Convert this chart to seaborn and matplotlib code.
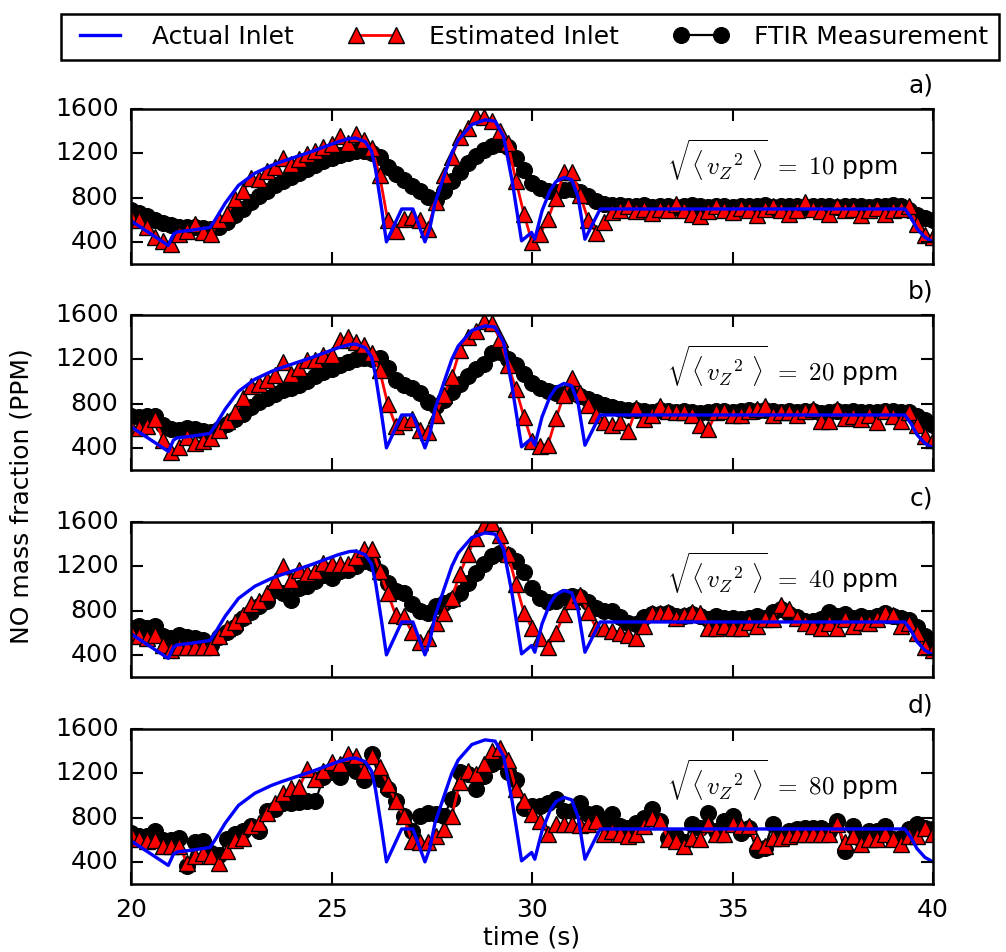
import numpy as np
import matplotlib
matplotlib.use("Agg")
import matplotlib.pyplot as plt
import seaborn as sns

# ---------------- data ----------------
TIME = [round(20 + 0.2 * i, 1) for i in range(101)]

# actual inlet (breakpoints)
ACT_T = [20.0, 20.93, 21.06, 21.15, 21.5, 21.97, 22.1, 22.35, 22.68, 23.09, 23.5, 23.76,
         24.5, 25.17, 25.45, 25.6, 25.84, 26.0, 26.1, 26.25, 26.37, 26.75, 27.03, 27.33,
         27.45, 27.58, 27.83, 28.0, 28.16, 28.5, 28.83, 29.08, 29.29, 29.5, 29.74, 29.99,
         30.07, 30.25, 30.45, 30.6, 30.8, 30.99, 31.15, 31.32, 31.7, 39.3, 39.45, 39.6,
         39.8, 40.0]
ACT_V = [590, 368, 470, 490, 505, 530, 600, 750, 910, 1020, 1090, 1125,
         1215, 1305, 1333, 1338, 1305, 1220, 1050, 700, 400, 697, 697, 400,
         520, 750, 1020, 1200, 1320, 1460, 1502, 1490, 1355, 960, 409, 485,
         424, 680, 864, 945, 982, 960, 803, 424, 697, 697, 620, 520,
         440, 400]

EST_A = [620, 600, 530, 440, 410, 380, 470, 500, 560, 490,
         470, 600, 650, 790, 860, 980, 970, 1040, 1075, 1160,
         1100, 1150, 1190, 1225, 1255, 1280, 1360, 1290, 1375, 1320,
         1250, 1000, 600, 500, 610, 620, 600, 520, 760, 1000,
         1170, 1350, 1430, 1540, 1530, 1490, 1400, 1290, 950, 650,
         400, 470, 610, 800, 1030, 1030, 820, 600, 480, 575,
         666, 690, 720, 680, 700, 660, 700, 690, 740, 690,
         650, 630, 680, 720, 690, 670, 710, 690, 640, 700,
         720, 690, 650, 690, 760, 700, 680, 650, 720, 690,
         700, 640, 690, 710, 650, 690, 700, 720, 560, 460,
         440]
FTIR_A = [690, 660, 630, 600, 570, 550, 535, 530, 530, 525,
          515, 535, 580, 640, 700, 760, 810, 860, 910, 950,
          985, 1020, 1055, 1090, 1130, 1160, 1185, 1205, 1220, 1225,
          1205, 1170, 1080, 1010, 955, 900, 855, 805, 775, 860,
          950, 1030, 1110, 1175, 1230, 1270, 1280, 1260, 1160, 1050,
          930, 885, 860, 850, 870, 875, 850, 815, 770, 745,
          735, 730, 725, 720, 730, 715, 720, 725, 715, 720,
          730, 720, 715, 725, 720, 715, 720, 725, 720, 730,
          715, 720, 720, 725, 715, 720, 725, 720, 715, 720,
          725, 720, 715, 720, 725, 730, 725, 690, 640, 615,
          600]

EST_B = [590, 580, 600, 660, 470, 360, 410, 500, 440, 460,
         490, 560, 640, 720, 850, 960, 980, 1010, 1060, 1180,
         1070, 1120, 1190, 1190, 1240, 1240, 1370, 1400, 1360, 1330,
         1260, 1100, 800, 600, 630, 660, 560, 540, 700, 880,
         1040, 1280, 1400, 1460, 1550, 1530, 1380, 1150, 930, 680,
         460, 420, 430, 670, 880, 1030, 900, 790, 700, 630,
         610, 630, 550, 760, 660, 700, 780, 730, 720, 720,
         700, 610, 570, 720, 730, 700, 700, 730, 750, 780,
         700, 720, 720, 700, 730, 750, 640, 640, 750, 670,
         690, 660, 700, 630, 730, 690, 640, 720, 610, 510,
         470]
FTIR_B = [690, 675, 685, 690, 610, 570, 565, 575, 570, 550,
          540, 570, 620, 665, 710, 770, 815, 850, 890, 920,
          940, 965, 1000, 1045, 1085, 1110, 1145, 1180, 1205, 1215,
          1205, 1215, 1120, 1010, 970, 940, 895, 815, 780, 835,
          905, 975, 1050, 1110, 1160, 1260, 1265, 1205, 1145, 1070,
          990, 940, 910, 895, 890, 895, 870, 840, 810, 790,
          770, 755, 745, 740, 735, 725, 740, 730, 720, 735,
          725, 715, 720, 730, 735, 725, 730, 740, 735, 745,
          730, 725, 730, 725, 735, 730, 715, 720, 735, 725,
          730, 720, 725, 720, 735, 730, 725, 720, 690, 650,
          610]

EST_C = [610, 570, 550, 580, 490, 445, 475, 475, 475, 475,
         475, 570, 640, 700, 760, 855, 885, 960, 1065, 1200,
         1080, 1170, 1140, 1160, 1230, 1220, 1220, 1220, 1280, 1355,
         1355, 1160, 960, 760, 750, 610, 520, 550, 690, 780,
         915, 1130, 1310, 1460, 1570, 1590, 1480, 1310, 1040, 780,
         640, 550, 470, 600, 770, 890, 940, 790, 640, 640,
         620, 600, 580, 550, 660, 780, 780, 790, 730, 760,
         790, 780, 640, 640, 660, 640, 640, 700, 660, 720,
         720, 850, 810, 730, 690, 660, 640, 690, 640, 720,
         660, 700, 690, 720, 780, 760, 660, 690, 600, 470,
         440]
FTIR_C = [640, 660, 640, 660, 570, 550, 580, 565, 550, 535,
          490, 565, 610, 655, 730, 790, 840, 885, 990, 960,
          900, 1000, 1020, 1065, 1125, 1095, 1155, 1170, 1200, 1250,
          1230, 1145, 1050, 975, 960, 855, 795, 780, 840, 870,
          900, 960, 1050, 1140, 1225, 1290, 1320, 1305, 1245, 1150,
          1000, 910, 875, 885, 920, 930, 920, 880, 820, 795,
          800, 740, 685, 680, 745, 765, 765, 775, 750, 755,
          765, 750, 720, 750, 735, 735, 720, 730, 750, 735,
          790, 810, 770, 740, 710, 705, 720, 790, 750, 765,
          735, 750, 735, 750, 780, 750, 735, 715, 650, 570,
          500]

EST_D = [650, 605, 590, 600, 545, 545, 545, 390, 450, 480,
         455, 390, 495, 600, 620, 720, 755, 845, 935, 1025,
         1070, 1075, 1240, 1150, 1225, 1300, 1285, 1375, 1360, 1225,
         1360, 1255, 1105, 950, 815, 590, 575, 575, 635, 695,
         815, 1120, 1225, 1195, 1285, 1405, 1430, 1320, 1060, 950,
         830, 770, 650, 740, 740, 740, 730, 740, 770, 650,
         680, 650, 635, 650, 725, 800, 770, 605, 590, 545,
         620, 605, 740, 650, 650, 740, 725, 725, 575, 545,
         620, 620, 635, 650, 650, 650, 650, 650, 740, 575,
         635, 560, 605, 605, 650, 605, 560, 635, 635, 710,
         650]
FTIR_D = [665, 635, 635, 680, 600, 600, 620, 360, 575, 590,
          480, 465, 605, 650, 680, 725, 680, 860, 875, 935,
          935, 940, 950, 950, 1165, 1210, 1165, 1255, 1225, 1135,
          1375, 1150, 1060, 950, 815, 680, 815, 845, 830, 815,
          965, 1210, 1195, 1060, 1180, 1285, 1315, 1210, 1135, 890,
          905, 905, 935, 965, 860, 860, 935, 830, 845, 755,
          830, 725, 710, 755, 800, 875, 770, 620, 635, 575,
          740, 710, 845, 680, 770, 815, 665, 710, 510, 525,
          740, 635, 680, 695, 710, 710, 710, 680, 770, 500,
          725, 605, 680, 680, 725, 605, 620, 695, 740, 710,
          700]

PANEL_LABELS = ["a)", "b)", "c)", "d)"]
NOISE_LEVELS = ["10", "20", "40", "80"]
SERIES_LABELS = ["Actual Inlet", "Estimated Inlet", "FTIR Measurement"]
X_TICKS = [20, 25, 30, 35, 40]
Y_TICKS = [400, 800, 1200, 1600]

EST = [EST_A, EST_B, EST_C, EST_D]
FTIR = [FTIR_A, FTIR_B, FTIR_C, FTIR_D]
for s in EST + FTIR:
    assert len(s) == len(TIME), len(s)

# ---------------- style ----------------
plt.style.use("classic")
plt.rcParams.update({
    "figure.facecolor": "white",
    "savefig.facecolor": "white",
    "font.family": ["DejaVu Sans"],
    "font.size": 18,
    "mathtext.fontset": "cm",
    "axes.linewidth": 1.8,
    "xtick.major.size": 8.5,
    "ytick.major.size": 8.5,
    "xtick.major.width": 1.5,
    "ytick.major.width": 1.5,
    "xtick.major.pad": 10,
    "ytick.major.pad": 9,
    "xtick.labelsize": 18,
    "ytick.labelsize": 18,
})

W, H = 1006, 952
fig = plt.figure(figsize=(W / 100, H / 100), dpi=100)

left, right = 131 / W, 933 / W
tops = [109, 315, 522, 729]
ax_h = 155

axes = []
for i in range(4):
    top = tops[i]
    ax = fig.add_axes([left, 1 - (top + ax_h) / H, right - left, ax_h / H])
    axes.append(ax)
    sns.lineplot(x=TIME, y=FTIR[i], ax=ax, color="k", linewidth=1.6,
                 marker="o", markersize=11.5, markeredgecolor="k",
                 markerfacecolor="k", errorbar=None, legend=False)
    sns.lineplot(x=TIME, y=EST[i], ax=ax, color="r", linewidth=2.0,
                 marker="^", markersize=11, markeredgecolor="k",
                 markeredgewidth=1.0, markerfacecolor="r",
                 errorbar=None, legend=False)
    sns.lineplot(x=ACT_T, y=ACT_V, ax=ax, color="b", linewidth=2.4,
                 errorbar=None, legend=False)
    ax.set_xlim(20, 40)
    ax.set_ylim(200, 1600)
    ax.set_xticks(X_TICKS)
    ax.set_yticks(Y_TICKS)
    ax.set_xlabel("")
    ax.set_ylabel("")
    ax.tick_params(direction="in", top=True, right=True)
    if i < 3:
        ax.set_xticklabels([])
    ax.text(1.0, 1.0 + 12 / ax_h, PANEL_LABELS[i], transform=ax.transAxes,
            ha="right", va="bottom", fontsize=18)
    ax.text(0.956, 0.67,
            r"$\sqrt{\langle\, {v_Z}^2\ \rangle}\ =\ " + NOISE_LEVELS[i] + r"$ ppm",
            transform=ax.transAxes, ha="right", va="center", fontsize=18)

h = axes[0].lines
leg = fig.legend([h[2], h[1], h[0]], SERIES_LABELS, loc="center",
                 bbox_to_anchor=(530 / W, 1 - 37 / H), ncol=3, fontsize=18,
                 numpoints=2, handlelength=2.2, handletextpad=1.0,
                 columnspacing=2.2, borderpad=0.45, borderaxespad=0.0,
                 fancybox=False, frameon=True)
leg.get_frame().set_linewidth(1.8)
leg.get_frame().set_edgecolor("k")

fig.text(22 / W, 1 - 496 / H, "NO mass fraction (PPM)", rotation=90,
         ha="center", va="center", fontsize=18)
fig.text(532 / W, 1 - 938 / H, "time (s)", ha="center", va="center", fontsize=18)

fig.savefig("out.png", dpi=100)
